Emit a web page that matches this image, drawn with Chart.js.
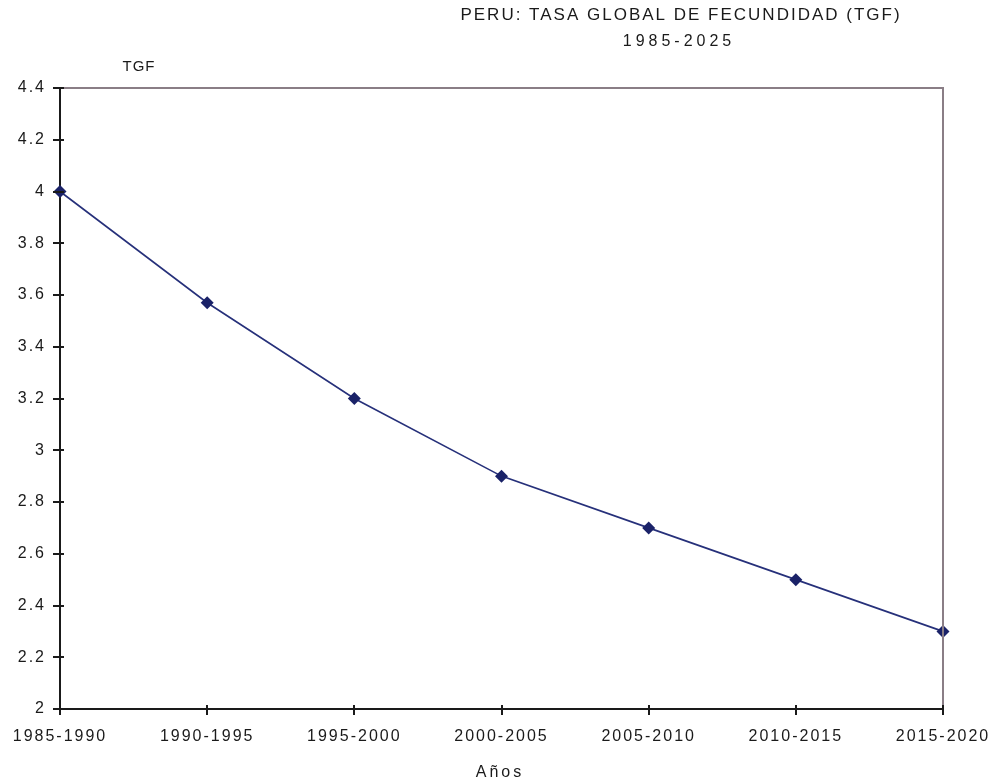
<!DOCTYPE html>
<html>
<head>
<meta charset="utf-8">
<title>PERU: Tasa Global de Fecundidad 1985-2025</title>
<script src="https://cdn.jsdelivr.net/npm/chart.js@4/dist/chart.umd.min.js"></script>
<style>
  html, body { margin: 0; padding: 0; background: #ffffff; }
  #wrap { width: 990px; height: 780px; position: relative; }
</style>
</head>
<body>
<div id="wrap"><canvas id="chart" width="990" height="780"></canvas></div>
<script>
// Quinquennial periods and total fertility rate (TGF)
const periods = ['1985-1990', '1990-1995', '1995-2000', '2000-2005', '2005-2010', '2010-2015', '2015-2020'];
const tgf = [4.0, 3.57, 3.2, 2.9, 2.7, 2.5, 2.3];

const titleLines = ['PERU: TASA GLOBAL DE FECUNDIDAD (TGF)', '1985-2025'];
const yTitle = 'TGF';
const xTitle = 'Años';

const FONT = '"Liberation Sans", Arial, sans-serif';
const INK = '#1a1a1a';

// Wide letter spacing for every text drawn on the canvas
const spacingPlugin = {
  id: 'spacing',
  beforeInit(chart) { chart.ctx.letterSpacing = '2px'; },
  beforeLayout(chart) { chart.ctx.letterSpacing = '2px'; },
  beforeDraw(chart) { chart.ctx.letterSpacing = '2px'; }
};

// Frame lines, crossing tick marks and free-standing labels
const framePlugin = {
  id: 'frame',
  afterDraw(chart) {
    const { ctx, chartArea: a, scales } = chart;
    ctx.save();
    // top and right edges of the plot area
    ctx.strokeStyle = '#8a7e86';
    ctx.lineWidth = 2;
    ctx.beginPath();
    ctx.moveTo(a.left, a.top);
    ctx.lineTo(a.right, a.top);
    ctx.lineTo(a.right, a.bottom);
    ctx.stroke();

    // tick marks that cross the axis lines
    ctx.strokeStyle = INK;
    ctx.lineWidth = 2;
    ctx.beginPath();
    scales.y.ticks.forEach(t => {
      const y = Math.round(scales.y.getPixelForValue(t.value));
      ctx.moveTo(a.left - 7, y);
      ctx.lineTo(a.left + 4, y);
    });
    periods.forEach((p, i) => {
      const x = Math.round(scales.x.getPixelForValue(i));
      ctx.moveTo(x, a.bottom - 4);
      ctx.lineTo(x, a.bottom + 6);
    });
    ctx.stroke();

    // titles
    ctx.fillStyle = INK;
    ctx.textAlign = 'center';
    ctx.textBaseline = 'middle';
    ctx.font = '17px ' + FONT;
    ctx.letterSpacing = '2px';
    ctx.fillText(titleLines[0], 681, 15);
    ctx.font = '16px ' + FONT;
    ctx.letterSpacing = '4px';
    ctx.fillText(titleLines[1], 679, 42);
    ctx.font = '15px ' + FONT;
    ctx.letterSpacing = '1px';
    ctx.fillText(yTitle, 139, 67);
    ctx.font = '16px ' + FONT;
    ctx.letterSpacing = '3px';
    ctx.fillText(xTitle, 500, 773);
    ctx.restore();
  }
};

new Chart(document.getElementById('chart'), {
  type: 'line',
  data: {
    labels: periods,
    datasets: [{
      label: 'TGF',
      data: tgf,
      borderColor: '#26307a',
      backgroundColor: '#1a2268',
      borderWidth: 1.6,
      pointStyle: 'rectRot',
      pointRadius: 6.5,
      pointHoverRadius: 6.5,
      pointBorderWidth: 0,
      tension: 0,
      clip: false
    }]
  },
  options: {
    responsive: false,
    animation: false,
    layout: { padding: { top: 88, right: 47, left: 0, bottom: 0 } },
    plugins: {
      legend: { display: false },
      title: { display: false },
      tooltip: { enabled: false }
    },
    scales: {
      x: {
        type: 'category',
        offset: false,
        grid: { display: false, drawTicks: false, offset: false },
        border: { display: true, color: INK, width: 2 },
        ticks: {
          color: INK,
          font: { family: FONT, size: 16 },
          padding: 18,
          maxRotation: 0,
          autoSkip: false
        },
        afterFit(s) { s.height = 71; s.paddingLeft = 0; s.paddingRight = 0; }
      },
      y: {
        min: 2,
        max: 4.4,
        grid: { display: false, drawTicks: false },
        border: { display: true, color: INK, width: 2 },
        ticks: {
          stepSize: 0.2,
          color: INK,
          font: { family: FONT, size: 16 },
          padding: 14,
          callback: v => String(Math.round(v * 10) / 10)
        },
        afterFit(s) { s.width = 60; s.paddingTop = 0; s.paddingBottom = 0; }
      }
    }
  },
  plugins: [spacingPlugin, framePlugin]
});
</script>
</body>
</html>
